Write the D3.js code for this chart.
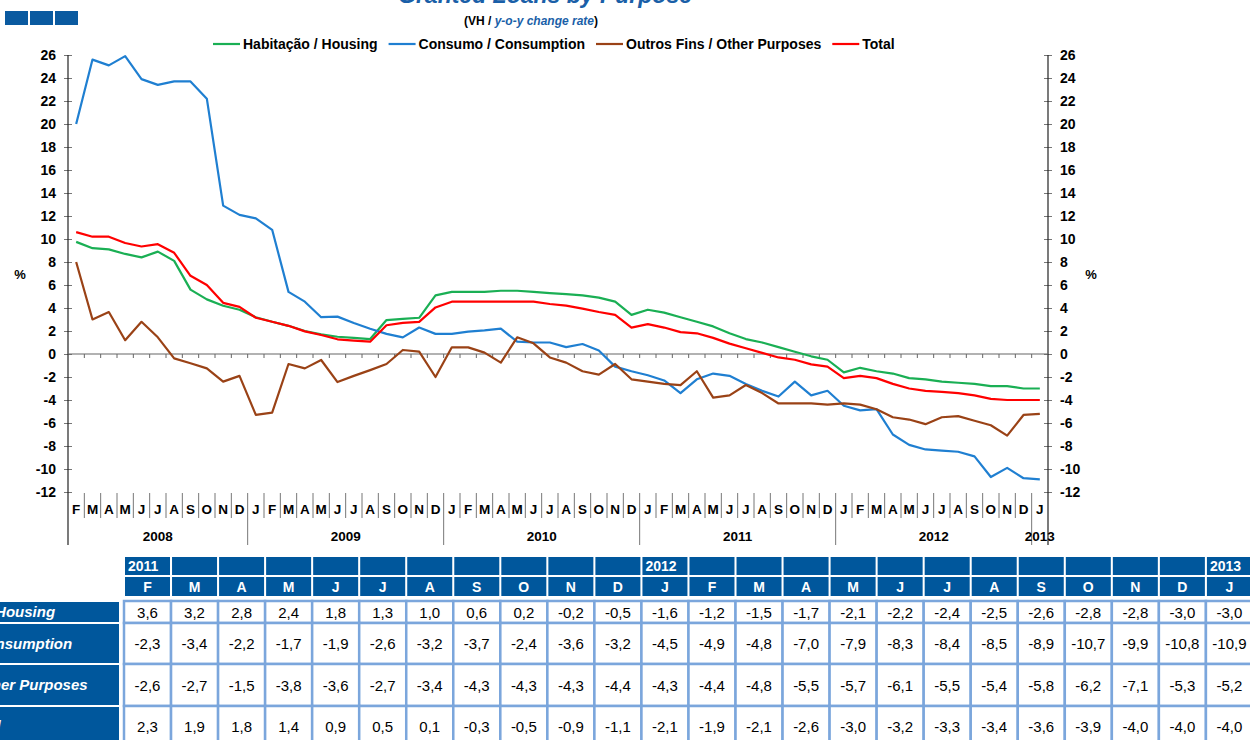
<!DOCTYPE html>
<html>
<head>
<meta charset="utf-8">
<script src="https://cdn.jsdelivr.net/npm/d3@7"></script>
<style>
body { margin: 0; background: #fff; font-family: "Liberation Sans", Arial, sans-serif; }
svg { display: block; }
</style>
</head>
<body>
<svg id="chart" width="1250" height="740"></svg>
<script>
// months run from Feb 2008 to Jan 2013
const monthLetters = ["J","F","M","A","M","J","J","A","S","O","N","D"];
const firstYear = 2008, firstMonth = 1, nMonths = 60;

const housing = [9.75, 9.2, 9.1, 8.7, 8.4, 8.9, 8.1, 5.6, 4.75, 4.2, 3.85,
  3.2, 2.8, 2.45, 2.0, 1.7, 1.5, 1.4, 1.3, 2.95, 3.05, 3.15, 5.1,
  5.4, 5.4, 5.4, 5.5, 5.5, 5.4, 5.3, 5.2, 5.1, 4.9, 4.55, 3.4,
  3.85, 3.6, 3.2, 2.8, 2.4, 1.8, 1.3, 1.0, 0.6, 0.2, -0.2, -0.5,
  -1.6, -1.2, -1.5, -1.7, -2.1, -2.2, -2.4, -2.5, -2.6, -2.8, -2.8, -3.0,
  -3.0];
const consumption = [20.0, 25.6, 25.1, 25.9, 23.9, 23.4, 23.7, 23.7, 22.2, 12.9, 12.1,
  11.8, 10.8, 5.4, 4.55, 3.2, 3.25, 2.7, 2.2, 1.75, 1.45, 2.3, 1.75,
  1.75, 1.95, 2.05, 2.2, 1.07, 1.0, 1.0, 0.6, 0.87, 0.3, -1.1, -1.5,
  -1.85, -2.3, -3.4, -2.2, -1.7, -1.9, -2.6, -3.2, -3.7, -2.4, -3.6, -3.2,
  -4.5, -4.9, -4.8, -7.0, -7.9, -8.3, -8.4, -8.5, -8.9, -10.7, -9.9, -10.8,
  -10.9];
const otherPurposes = [8.0, 3.0, 3.65, 1.2, 2.8, 1.45, -0.38, -0.8, -1.25, -2.4, -1.9,
  -5.3, -5.1, -0.87, -1.25, -0.52, -2.44, -1.9, -1.4, -0.87, 0.35, 0.2, -2.0,
  0.58, 0.58, 0.12, -0.75, 1.45, 0.93, -0.3, -0.75, -1.5, -1.8, -0.87, -2.2,
  -2.4, -2.6, -2.7, -1.5, -3.8, -3.6, -2.7, -3.4, -4.3, -4.3, -4.3, -4.4,
  -4.3, -4.4, -4.8, -5.5, -5.7, -6.1, -5.5, -5.4, -5.8, -6.2, -7.1, -5.3,
  -5.2];
const total = [10.6, 10.2, 10.2, 9.65, 9.35, 9.55, 8.8, 6.8, 6.0, 4.45, 4.1,
  3.15, 2.8, 2.45, 1.97, 1.65, 1.28, 1.16, 1.07, 2.5, 2.7, 2.8, 4.05,
  4.55, 4.55, 4.55, 4.55, 4.55, 4.55, 4.35, 4.2, 3.95, 3.65, 3.4, 2.3,
  2.6, 2.3, 1.9, 1.8, 1.4, 0.9, 0.5, 0.1, -0.3, -0.5, -0.9, -1.1,
  -2.1, -1.9, -2.1, -2.6, -3.0, -3.2, -3.3, -3.4, -3.6, -3.9, -4.0, -4.0,
  -4.0];

const seriesNames = ["Habitação / Housing", "Consumo / Consumption", "Outros Fins / Other Purposes", "Total"];
const seriesColors = ["#1aaf54", "#1f7fd1", "#9a4216", "#ff0000"];
const seriesValues = [housing, consumption, otherPurposes, total];
const yTicks = d3.range(-12, 27, 2);
const tableStart = 36; // table shows Feb 2011 .. Jan 2013

const pt = d3.formatLocale({decimal: ",", thousands: ".", grouping: [3], currency: ["", "€"], minus: "-"});
const fmt1 = pt.format(".1f");
const fmtInt = pt.format("d");

const months = d3.range(nMonths).map(i => {
    const k = firstMonth + i;
    return {i: i, m: k % 12, yr: firstYear + Math.floor(k / 12)};
});

const svg = d3.select("#chart");
const font = '"Liberation Sans", Arial, sans-serif';
const darkBlue = "#00579c";

const x = d3.scaleBand().domain(d3.range(nMonths)).range([68, 1048]);
const bw = x.bandwidth();
const y = d3.scaleLinear().domain([-12, 26]).range([492, 55]);

// three small squares top left
svg.append("g").selectAll("rect")
    .data([0, 1, 2]).enter().append("rect")
    .attr("x", d => 5 + d * 25).attr("y", 11)
    .attr("width", 23).attr("height", 14)
    .attr("fill", "#0a5aa0");

// title (partly above the page)
svg.append("text")
    .attr("x", 545).attr("y", 3)
    .attr("text-anchor", "middle")
    .style("font-family", font).style("font-size", "23px")
    .style("font-weight", "bold").style("font-style", "italic")
    .attr("fill", "#1a5fa8")
    .text("Granted Loans by Purpose");

let sub = svg.append("text")
    .attr("x", 531).attr("y", 25)
    .attr("text-anchor", "middle")
    .style("font-family", font).style("font-size", "12px").style("font-weight", "bold");
sub.append("tspan").text("(VH / ");
sub.append("tspan").attr("fill", "#1a5fa8").style("font-style", "italic").text("y-o-y change rate");
sub.append("tspan").text(")");

// legend
let lx = 213;
const legend = svg.append("g");
seriesNames.forEach((name, k) => {
    legend.append("line")
        .attr("x1", lx).attr("x2", lx + 27).attr("y1", 44).attr("y2", 44)
        .attr("stroke", seriesColors[k]).attr("stroke-width", 2.2);
    const t = legend.append("text")
        .attr("x", lx + 30).attr("y", 49)
        .style("font-family", font).style("font-size", "14px").style("font-weight", "bold")
        .text(name);
    lx += 30 + t.node().getComputedTextLength() + 11;
});

// axes
const yl = svg.append("g").attr("transform", "translate(68,0)")
    .call(d3.axisLeft(y).tickValues(yTicks).tickSize(4).tickPadding(8).tickFormat(fmtInt));
const yr = svg.append("g").attr("transform", "translate(1048,0)")
    .call(d3.axisRight(y).tickValues(yTicks).tickSize(4).tickPadding(8).tickFormat(fmtInt));
yl.select(".domain").remove();
yr.select(".domain").remove();
yl.selectAll(".tick line").attr("x1", 4).attr("stroke", "#777");
yr.selectAll(".tick line").attr("x1", -4).attr("stroke", "#777");
svg.selectAll(".tick text")
    .style("font-family", font).style("font-size", "14px").style("font-weight", "bold")
    .attr("fill", "#000");

[68, 1048].forEach(ax => {
    svg.append("line").attr("x1", ax).attr("x2", ax).attr("y1", 55).attr("y2", 545)
        .attr("stroke", "#222").attr("stroke-width", 1.2);
});

svg.append("text").attr("x", 20).attr("y", 279).attr("text-anchor", "middle")
    .style("font-family", font).style("font-size", "13px").style("font-weight", "bold").text("%");
svg.append("text").attr("x", 1091).attr("y", 279).attr("text-anchor", "middle")
    .style("font-family", font).style("font-size", "13px").style("font-weight", "bold").text("%");

// zero line with category ticks
svg.append("line").attr("x1", 68).attr("x2", 1048).attr("y1", y(0)).attr("y2", y(0))
    .attr("stroke", "#666").attr("stroke-width", 1.2);
svg.append("g").selectAll("line")
    .data(d3.range(1, nMonths)).enter().append("line")
    .attr("x1", d => x(d)).attr("x2", d => x(d))
    .attr("y1", y(0)).attr("y2", y(0) + 4)
    .attr("stroke", "#666");

// category labels: months and years
svg.append("g").selectAll("text")
    .data(months).enter().append("text")
    .attr("x", d => x(d.i) + bw / 2).attr("y", 514)
    .attr("text-anchor", "middle")
    .style("font-family", font).style("font-size", "13.5px").style("font-weight", "bold")
    .text(d => monthLetters[d.m]);

svg.append("g").selectAll("line")
    .data(months.filter(d => d.i > 0)).enter().append("line")
    .attr("x1", d => x(d.i)).attr("x2", d => x(d.i))
    .attr("y1", 493).attr("y2", d => d.m === 0 ? 545 : 518)
    .attr("stroke", "#777");

const yearGroups = d3.groups(months, d => d.yr);
svg.append("g").selectAll("text")
    .data(yearGroups).enter().append("text")
    .attr("x", d => (x(d[1][0].i) + x(d[1][d[1].length - 1].i) + bw) / 2)
    .attr("y", 541)
    .attr("text-anchor", "middle")
    .style("font-family", font).style("font-size", "13.5px").style("font-weight", "bold")
    .text(d => d[0]);

// lines
const line = d3.line()
    .x((d, i) => x(i) + bw / 2)
    .y(d => y(d));
svg.append("g").selectAll("path")
    .data(seriesValues).enter().append("path")
    .attr("d", d => line(d))
    .attr("fill", "none")
    .attr("stroke", (d, k) => seriesColors[k])
    .attr("stroke-width", 2.2)
    .attr("stroke-linejoin", "round");

// table below the chart
const tMonths = months.slice(tableStart);
const colX = i => 125 + i * 47.04;
const colW = 45;
const rowsY = [[601, 22], [623, 41], [664, 42], [706, 40]];
const table = svg.append("g");

table.selectAll(".yh").data(tMonths).enter().append("rect")
    .attr("x", (d, i) => colX(i)).attr("y", 557).attr("width", colW).attr("height", 18)
    .attr("fill", darkBlue);
table.selectAll(".yt").data(tMonths.filter((d, i) => i === 0 || d.m === 0)).enter().append("text")
    .attr("x", d => colX(d.i - tableStart) + 3).attr("y", 571)
    .style("font-family", font).style("font-size", "14px").style("font-weight", "bold")
    .attr("fill", "#fff")
    .text(d => d.yr);
table.selectAll(".mh").data(tMonths).enter().append("rect")
    .attr("x", (d, i) => colX(i)).attr("y", 577).attr("width", colW).attr("height", 19)
    .attr("fill", darkBlue);
table.selectAll(".mt").data(tMonths).enter().append("text")
    .attr("x", (d, i) => colX(i) + colW / 2).attr("y", 592)
    .attr("text-anchor", "middle")
    .style("font-family", font).style("font-size", "14px").style("font-weight", "bold")
    .attr("fill", "#fff")
    .text(d => monthLetters[d.m]);

seriesValues.forEach((vals, r) => {
    const ry = rowsY[r][0], rh = rowsY[r][1];
    table.append("rect").attr("x", -300).attr("y", ry + 1).attr("width", 419).attr("height", rh - 2)
        .attr("fill", darkBlue);
    table.append("text").attr("x", -17).attr("y", ry + rh / 2 + 5)
        .attr("text-anchor", "middle")
        .style("font-family", font).style("font-size", "15px")
        .style("font-weight", "bold").style("font-style", "italic")
        .attr("fill", "#fff")
        .text(seriesNames[r]);
    const tv = vals.slice(tableStart);
    table.append("g").selectAll("rect").data(tv).enter().append("rect")
        .attr("x", (d, i) => colX(i) - 1).attr("y", ry).attr("width", 47.04).attr("height", rh)
        .attr("fill", "#fff").attr("stroke", "#7ba6dc").attr("stroke-width", 2.5);
    table.append("g").selectAll("text").data(tv).enter().append("text")
        .attr("x", (d, i) => colX(i) + colW / 2).attr("y", ry + rh / 2 + 5.5)
        .attr("text-anchor", "middle")
        .style("font-family", font).style("font-size", "15px")
        .text(d => fmt1(d));
});
</script>
</body>
</html>
